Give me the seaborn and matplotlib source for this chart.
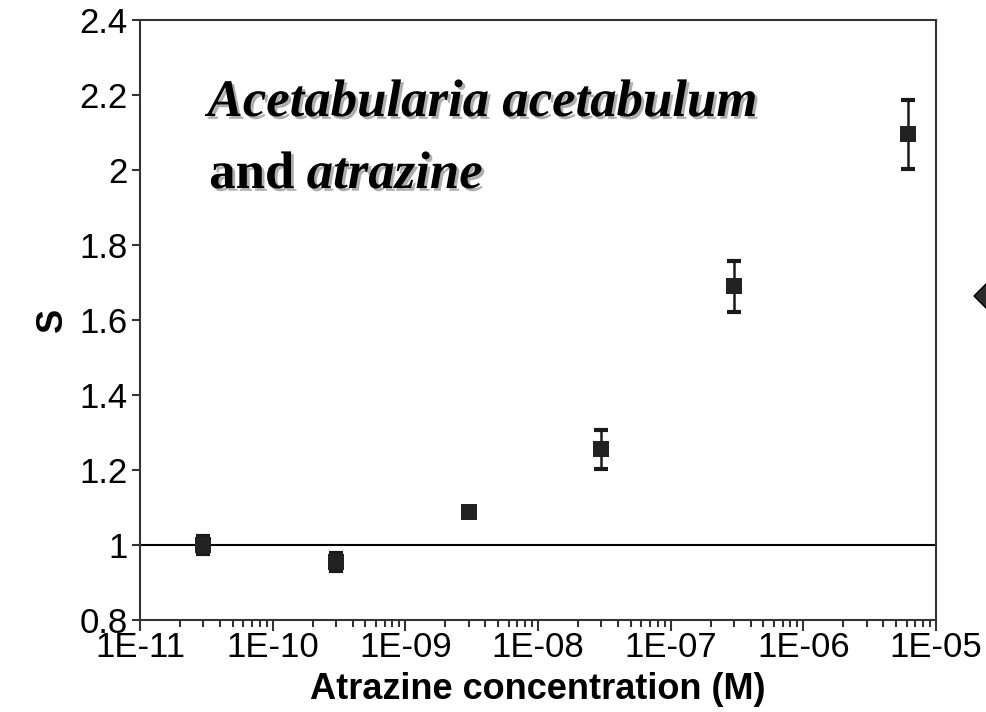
import numpy as np
import pandas as pd
import seaborn as sns
import matplotlib
matplotlib.use("Agg")
import matplotlib.pyplot as plt
import matplotlib.patheffects as pe
from matplotlib.ticker import FixedLocator, FuncFormatter, NullFormatter, MultipleLocator

# ===== data =====
concentration = [3e-11, 3e-10, 3e-9, 3e-8, 3e-7, 6.2e-6]
s_mean = [1.0, 0.955, 1.088, 1.255, 1.69, 2.095]
s_err = [0.025, 0.025, 0.008, 0.053, 0.068, 0.093]
decades = [-11, -10, -9, -8, -7, -6, -5]

df = pd.DataFrame({"conc": concentration, "S": s_mean, "err": s_err})

sns.set_style("ticks")
plt.rcParams["font.family"] = ["Liberation Sans", "DejaVu Sans"]
plt.rcParams["text.color"] = "black"
plt.rcParams["xtick.color"] = "black"
plt.rcParams["ytick.color"] = "black"
plt.rcParams["axes.labelcolor"] = "black"

fig = plt.figure(figsize=(9.87, 7.12), dpi=100)
ax = fig.add_axes([0.1418, 0.1292, 0.8065, 0.8427])

# reference line at S = 1
ax.axhline(1.0, color="black", lw=1.5, zorder=1)

ax.errorbar(df["conc"], df["S"], yerr=df["err"], fmt="none", ecolor="#1a1a1a",
            elinewidth=1.8, capsize=5, capthick=3, zorder=2)
sns.scatterplot(data=df, x="conc", y="S", marker="s", s=130, color="#222222",
                edgecolor="#222222", linewidth=0, ax=ax, zorder=3)

ax.set_xscale("log")
ax.set_xlim(1e-11, 1e-5)
ax.set_ylim(0.8, 2.4)
ax.yaxis.set_major_locator(MultipleLocator(0.2))
ax.yaxis.set_major_formatter(FuncFormatter(lambda v, p: "%g" % round(v, 1)))

major = [10.0 ** d for d in decades]
minor = [m * 10.0 ** d for d in decades[:-1] for m in range(2, 10)]
ax.xaxis.set_major_locator(FixedLocator(major))
ax.xaxis.set_minor_locator(FixedLocator(minor))
ax.xaxis.set_major_formatter(FuncFormatter(lambda v, p: "1E-%02d" % round(-np.log10(v))))
ax.xaxis.set_minor_formatter(NullFormatter())

for side in ["left", "bottom", "top", "right"]:
    ax.spines[side].set_visible(True)
    ax.spines[side].set_color("#333333")
    ax.spines[side].set_linewidth(1.5)

ax.tick_params(axis="both", which="major", labelsize=25, width=1.5, color="#333333",
               labelcolor="black", direction="out")
ax.tick_params(axis="x", which="major", length=8, pad=0)
ax.tick_params(axis="x", which="minor", length=5, width=1.5, color="#333333")
ax.tick_params(axis="y", which="major", length=6, pad=3)

ax.set_xlabel("Atrazine concentration (M)", fontsize=26, fontweight="bold", labelpad=6)
ax.set_ylabel("S", fontsize=26, fontweight="bold", labelpad=7)

# title inside the plot, serif with a soft shadow
shadow = [pe.SimplePatchShadow(offset=(2, -2), shadow_rgbFace="#9a9a9a", alpha=0.8), pe.Normal()]
t1 = ax.text(0.085, 0.84, "Acetabularia acetabulum", transform=ax.transAxes,
             family="Liberation Serif", fontsize=38, fontweight="bold", style="italic",
             color="black", va="baseline", ha="left", path_effects=shadow)
t2 = ax.text(0.087, 0.72, "and", transform=ax.transAxes,
             family="Liberation Serif", fontsize=38, fontweight="bold",
             color="black", va="baseline", ha="left", path_effects=shadow)
ax.annotate("atrazine", xy=(1, 0), xycoords=t2, xytext=(9, 0), textcoords="offset points",
            family="Liberation Serif", fontsize=38, fontweight="bold", style="italic",
            color="black", va="bottom", ha="left", path_effects=shadow)

# partial navigation diamond at the right edge of the slide
diamond = plt.Polygon([(974 / 987, 1 - 296 / 712), (992 / 987, 1 - 278 / 712),
                       (1010 / 987, 1 - 296 / 712), (992 / 987, 1 - 314 / 712)],
                      closed=True, transform=fig.transFigure, facecolor="#2b2b2b",
                      edgecolor="black", lw=1, clip_on=False)
fig.patches.append(diamond)

fig.savefig("out.png", dpi=100)
